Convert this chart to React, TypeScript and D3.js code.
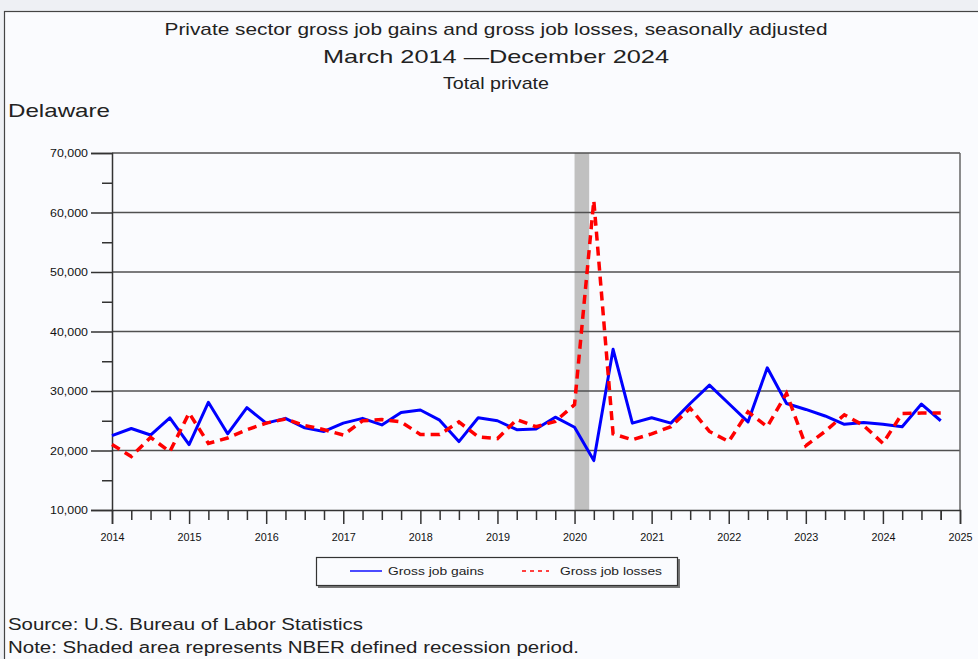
import React, { useEffect, useRef } from 'react';
import * as d3 from 'd3';

// quarters shown, March 2014 .. December 2024
const quarters = [
  '2014Q1', '2014Q2', '2014Q3', '2014Q4',
  '2015Q1', '2015Q2', '2015Q3', '2015Q4',
  '2016Q1', '2016Q2', '2016Q3', '2016Q4',
  '2017Q1', '2017Q2', '2017Q3', '2017Q4',
  '2018Q1', '2018Q2', '2018Q3', '2018Q4',
  '2019Q1', '2019Q2', '2019Q3', '2019Q4',
  '2020Q1', '2020Q2', '2020Q3', '2020Q4',
  '2021Q1', '2021Q2', '2021Q3', '2021Q4',
  '2022Q1', '2022Q2', '2022Q3', '2022Q4',
  '2023Q1', '2023Q2', '2023Q3', '2023Q4',
  '2024Q1', '2024Q2', '2024Q3', '2024Q4',
];

const gains = [
  22500, 23700, 22600, 25500,
  21000, 28100, 22800, 27200,
  24600, 25400, 23800, 23200,
  24600, 25400, 24300, 26400,
  26800, 25100, 21500, 25500,
  25000, 23500, 23600, 25600,
  23900, 18300, 37000, 24600,
  25500, 24600, 27900, 31000,
  27900, 24800, 33900, 27900,
  26900, 25800, 24400, 24700,
  24400, 24000, 27800, 25000,
];

const losses = [
  21000, 19000, 22200, 19800,
  26300, 21200, 22100, 23500,
  24600, 25300, 24200, 23500,
  22600, 25000, 25200, 24800,
  22700, 22700, 24800, 22300,
  22000, 25200, 24000, 24900,
  27700, 62000, 22800, 21800,
  22800, 24000, 27100, 23200,
  21500, 26500, 24000, 29600,
  20800, 23200, 26000, 24200,
  21200, 26200, 26300, 26300,
];

const yearTicks = [2014, 2015, 2016, 2017, 2018, 2019, 2020, 2021, 2022, 2023, 2024, 2025];
const yMajor = [10000, 20000, 30000, 40000, 50000, 60000, 70000];
const yMinor = [15000, 25000, 35000, 45000, 55000, 65000];
const recession = [2020.0, 2020.19];

const W = 978;
const H = 659;
const FONT = '"Liberation Sans", Arial, sans-serif';

const toYear = (q: string) => +q.slice(0, 4) + (+q.slice(5) - 1) / 4;

const App: React.FC = () => {
  const ref = useRef<SVGSVGElement>(null);

  useEffect(() => {
    if (!ref.current) return;
    const svg = d3.select(ref.current);
    svg.selectAll('*').remove();

    const x = d3.scaleLinear().domain([2014, 2025]).range([112, 960]);
    const y = d3.scaleLinear().domain([10000, 70000]).range([510, 153]);

    // page + frame
    svg.append('rect').attr('width', W).attr('height', H).attr('fill', '#eef0f4');
    svg.append('rect')
      .attr('x', 4.5).attr('y', 11.5).attr('width', W + 10).attr('height', H)
      .attr('fill', '#fafbfe').attr('stroke', '#444').attr('stroke-width', 1.2);

    // titles
    const titles = [
      { t: 'Private sector gross job gains and gross job losses, seasonally adjusted', y: 35, fs: 17, w: 663 },
      { t: 'March 2014  \u2014December 2024', y: 63, fs: 19, w: 346 },
      { t: 'Total private', y: 89, fs: 17, w: 106 },
    ];
    svg.append('g').selectAll('text').data(titles).enter().append('text')
      .attr('x', 496).attr('y', d => d.y)
      .attr('text-anchor', 'middle')
      .attr('font-family', FONT).attr('font-size', d => d.fs).attr('fill', '#222')
      .attr('textLength', d => d.w).attr('lengthAdjust', 'spacingAndGlyphs')
      .text(d => d.t);

    svg.append('text')
      .attr('x', 8).attr('y', 117)
      .attr('font-family', FONT).attr('font-size', 19).attr('fill', '#222')
      .attr('textLength', 102).attr('lengthAdjust', 'spacingAndGlyphs')
      .text('Delaware');

    // recession shading
    svg.append('rect')
      .attr('x', x(recession[0])).attr('y', y(70000))
      .attr('width', x(recession[1]) - x(recession[0]))
      .attr('height', y(10000) - y(70000))
      .attr('fill', '#c0c0c0');

    // gridlines
    svg.append('g').selectAll('line').data(yMajor.slice(1)).enter().append('line')
      .attr('x1', x(2014)).attr('x2', x(2025))
      .attr('y1', d => y(d)).attr('y2', d => y(d))
      .attr('stroke', '#505050').attr('stroke-width', 1.6);

    // right border
    svg.append('line')
      .attr('x1', x(2025)).attr('x2', x(2025))
      .attr('y1', y(70000)).attr('y2', y(10000))
      .attr('stroke', '#666').attr('stroke-width', 1.5);

    // y axis
    const yAxis = svg.append('g')
      .attr('transform', `translate(${x(2014)},0)`)
      .call(d3.axisLeft(y).tickValues(yMajor).tickSize(21).tickPadding(3).tickFormat(d3.format(',')));
    svg.append('g')
      .attr('transform', `translate(${x(2014)},0)`)
      .call(d3.axisLeft(y).tickValues(yMinor).tickSize(10).tickFormat(() => ''))
      .call(g => g.select('.domain').remove());
    yAxis.selectAll('text')
      .attr('font-family', FONT).attr('font-size', 11).attr('fill', '#111')
      .attr('textLength', 38).attr('lengthAdjust', 'spacingAndGlyphs');

    // x axis
    const xAxis = svg.append('g')
      .attr('transform', `translate(0,${y(10000)})`)
      .call(d3.axisBottom(x).tickValues(yearTicks).tickSize(14).tickPadding(10).tickFormat(d3.format('d')));
    svg.append('g')
      .attr('transform', `translate(0,${y(10000)})`)
      .call(d3.axisBottom(x).tickValues(quarters.map(toYear).filter(v => v % 1 !== 0).concat([2024.75]))
        .tickSize(10).tickFormat(() => ''))
      .call(g => g.select('.domain').remove());
    xAxis.selectAll('text')
      .attr('font-family', FONT).attr('font-size', 10).attr('fill', '#111')
      .attr('textLength', 24).attr('lengthAdjust', 'spacingAndGlyphs');

    svg.selectAll('.domain').attr('stroke', '#333').attr('stroke-width', 1.5);
    svg.selectAll('.tick line').attr('stroke', '#333').attr('stroke-width', 1.5);

    // series
    const line = d3.line<number>()
      .x((_, i) => x(toYear(quarters[i])))
      .y(d => y(d));

    svg.append('path')
      .datum(gains)
      .attr('fill', 'none').attr('stroke', '#0000ff').attr('stroke-width', 3)
      .attr('stroke-linejoin', 'round')
      .attr('d', line);

    svg.append('path')
      .datum(losses)
      .attr('fill', 'none').attr('stroke', '#ff0000').attr('stroke-width', 3.5)
      .attr('stroke-dasharray', '9,6')
      .attr('d', line);

    // legend
    const lg = svg.append('g');
    lg.append('rect')
      .attr('x', 318).attr('y', 559).attr('width', 362).attr('height', 29)
      .attr('fill', '#777');
    lg.append('rect')
      .attr('x', 316.5).attr('y', 557.5).attr('width', 361).attr('height', 28)
      .attr('fill', '#fafbfe').attr('stroke', '#333').attr('stroke-width', 1.2);
    lg.append('line')
      .attr('x1', 350).attr('x2', 382).attr('y1', 571).attr('y2', 571)
      .attr('stroke', '#4b4bff').attr('stroke-width', 2);
    lg.append('line')
      .attr('x1', 522).attr('x2', 549).attr('y1', 571).attr('y2', 571)
      .attr('stroke', '#ff4040').attr('stroke-width', 2).attr('stroke-dasharray', '4,4');
    lg.append('text')
      .attr('x', 388).attr('y', 575)
      .attr('font-family', FONT).attr('font-size', 11).attr('fill', '#222')
      .attr('textLength', 96).attr('lengthAdjust', 'spacingAndGlyphs')
      .text('Gross job gains');
    lg.append('text')
      .attr('x', 560).attr('y', 575)
      .attr('font-family', FONT).attr('font-size', 11).attr('fill', '#222')
      .attr('textLength', 102).attr('lengthAdjust', 'spacingAndGlyphs')
      .text('Gross job losses');

    // footnotes
    svg.append('text')
      .attr('x', 8).attr('y', 630)
      .attr('font-family', FONT).attr('font-size', 17).attr('fill', '#222')
      .attr('textLength', 355).attr('lengthAdjust', 'spacingAndGlyphs')
      .text('Source: U.S. Bureau of Labor Statistics');
    svg.append('text')
      .attr('x', 8).attr('y', 653)
      .attr('font-family', FONT).attr('font-size', 16).attr('fill', '#222')
      .attr('textLength', 571).attr('lengthAdjust', 'spacingAndGlyphs')
      .text('Note: Shaded area represents NBER defined recession period.');
  }, []);

  return (
    <svg
      ref={ref}
      width={W}
      height={H}
      style={{ position: 'absolute', left: 0, top: 0, display: 'block' }}
    />
  );
};

export default App;
